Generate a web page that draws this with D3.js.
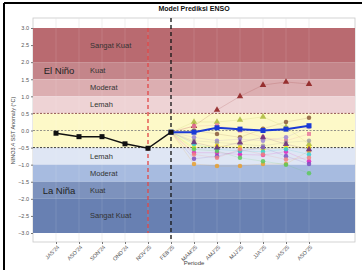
<!DOCTYPE html>
<html>
<head>
<meta charset="utf-8">
<script src="https://cdn.jsdelivr.net/npm/d3@7"></script>
<style>
body { margin: 0; background: #fff; }
svg { display: block; font-family: "Liberation Sans", Arial, sans-serif; }
</style>
</head>
<body>
<svg id="chart" width="362" height="270"></svg>
<script>
var periods = ["JAS'24", "ASO'24", "SON'24", "OND'24", "NOV'25", "FEB'25",
	"MAM'25", "AMJ'25", "MJJ'25", "JJA'25", "JAS'25", "ASO'25"];
var predPeriods = periods.slice(5);

var observed = [-0.08, -0.18, -0.18, -0.39, -0.52, -0.05];
var ensembleMean = [-0.05, -0.05, 0.08, 0.04, 0.0, 0.04, 0.14];

// model runs, starting from the last observed value
var modelColors = ["#8b1a1a", "#a9b83c", "#8b5a3c", "#e8789e", "#9b82d6", "#a0a0a0", "#f2e000",
	"#e020c0", "#7a4fc0", "#e8a030", "#30d0d0", "#5cc85c", "#6a2a7a", "#f08080"];
var modelShapes = ["triangle", "triangle", "circle", "square", "circle", "circle", "circle",
	"circle", "circle", "circle", "circle", "circle", "triangle", "circle"];
var modelValues = [
	[-0.05, 0.13, 0.6, 1.0, 1.33, 1.42, 1.36],
	[-0.05, 0.25, 0.25, 0.31, 0.4, 0.1, -0.4],
	[-0.05, 0.0, -0.1, -0.2, 0.05, 0.25, 0.37],
	[-0.05, 0.13, 0.15, 0.0, -0.2, -0.3, -0.1],
	[-0.05, -0.2, -0.3, -0.25, -0.3, -0.2, 0.1],
	[-0.05, -0.3, -0.35, -0.4, -0.45, -0.35, -0.3],
	[-0.05, -0.5, -0.45, -0.5, -0.55, -0.5, -0.5],
	[-0.05, -0.65, -0.65, -0.7, -0.72, -0.62, -0.9],
	[-0.05, -0.83, -0.75, -0.6, -0.5, -0.75, -0.98],
	[-0.05, -0.98, -1.04, -1.04, -0.98, -0.98, -0.6],
	[-0.05, -0.4, -0.55, -0.6, -0.62, -0.55, -0.7],
	[-0.05, -0.55, -0.6, -0.8, -0.9, -1.0, -1.25],
	[-0.05, -0.35, -0.5, -0.35, -0.2, -0.4, -0.55],
	[-0.05, -0.7, -0.8, -0.55, -0.7, -0.85, -0.8]
];

var bandRanges = [[2.0, 3.0], [1.5, 2.0], [1.0, 1.5], [0.5, 1.0], [-0.5, 0.5],
	[-1.0, -0.5], [-1.5, -1.0], [-2.0, -1.5], [-3.0, -2.0]];
var bandColors = ["#b96a70", "#c4858a", "#dcaeb1", "#eed3d5", "#fdf9c8",
	"#dfe6f4", "#a7bbe0", "#7d92bd", "#6880b2"];
var bandLabels = ["Sangat Kuat", "Kuat", "Moderat", "Lemah", "", "Lemah", "Moderat", "Kuat", "Sangat Kuat"];
var bandLabelValues = [2.5, 1.75, 1.25, 0.75, 0, -0.75, -1.25, -1.75, -2.5];

var yTicks = d3.range(-3, 3.01, 0.5);

var svg = d3.select("#chart");

var x = d3.scalePoint().domain(periods).range([56, 309]);
var step = x.step();
var y = d3.scaleLinear().domain([-3, 3]).range([233, 28]);

var panelLeft = x(periods[0]) - step;
var panelRight = x(periods[periods.length - 1]) + 2 * step;
var panelTop = 18, panelBottom = 242;

// frame
svg.append("line").attr("x1", 4).attr("x2", 362).attr("y1", 3).attr("y2", 3)
	.attr("stroke", "#000").attr("stroke-width", 2);
svg.append("line").attr("x1", 4).attr("x2", 4).attr("y1", 3).attr("y2", 270)
	.attr("stroke", "#000").attr("stroke-width", 2);

svg.append("text").attr("x", 194).attr("y", 11).attr("text-anchor", "middle")
	.attr("font-size", 7).attr("font-weight", "bold").attr("fill", "#111")
	.text("Model Prediksi ENSO");

// panel
svg.append("rect").attr("x", panelLeft).attr("y", panelTop)
	.attr("width", panelRight - panelLeft).attr("height", panelBottom - panelTop)
	.attr("fill", "#fff").attr("stroke", "#c8c8c8").attr("stroke-width", 0.8);

svg.append("g").selectAll("line").data(periods).enter().append("line")
	.attr("x1", function(d) { return x(d); }).attr("x2", function(d) { return x(d); })
	.attr("y1", panelTop).attr("y2", panelBottom)
	.attr("stroke", "#e4e4e4").attr("stroke-width", 0.6);

svg.append("g").selectAll("rect").data(bandRanges).enter().append("rect")
	.attr("x", panelLeft).attr("width", panelRight - panelLeft)
	.attr("y", function(d) { return y(d[1]); })
	.attr("height", function(d) { return y(d[0]) - y(d[1]); })
	.attr("fill", function(d, i) { return bandColors[i]; });

svg.append("g").selectAll("line").data(periods).enter().append("line")
	.attr("x1", function(d) { return x(d); }).attr("x2", function(d) { return x(d); })
	.attr("y1", y(3)).attr("y2", y(-3))
	.attr("stroke", "#fff").attr("stroke-opacity", 0.2).attr("stroke-width", 0.6);

svg.append("g").selectAll("text").data(bandLabels).enter().append("text")
	.attr("x", 90).attr("y", function(d, i) { return y(bandLabelValues[i]) + 2.5; })
	.attr("font-size", 7.5).attr("fill", "#333")
	.text(function(d) { return d; });

svg.append("text").attr("x", 59).attr("y", y(1.75) + 3.5).attr("text-anchor", "middle")
	.attr("font-size", 9.5).attr("fill", "#222").text("El Niño");
svg.append("text").attr("x", 59).attr("y", y(-1.75) + 3.5).attr("text-anchor", "middle")
	.attr("font-size", 9.5).attr("fill", "#222").text("La Niña");

// threshold lines
var thresholds = [[0.5, "#7a3030"], [0, "#777"], [-0.5, "#111"]];
svg.append("g").selectAll("line").data(thresholds).enter().append("line")
	.attr("x1", panelLeft).attr("x2", panelRight)
	.attr("y1", function(d) { return y(d[0]); }).attr("y2", function(d) { return y(d[0]); })
	.attr("stroke", function(d) { return d[1]; }).attr("stroke-width", 0.8)
	.attr("stroke-dasharray", "2,1.5");

// vertical markers
svg.append("line").attr("x1", x(periods[4])).attr("x2", x(periods[4]))
	.attr("y1", y(3)).attr("y2", y(-3))
	.attr("stroke", "#e04545").attr("stroke-width", 1.3).attr("stroke-dasharray", "4,3");
svg.append("line").attr("x1", x(periods[5])).attr("x2", x(periods[5]))
	.attr("y1", panelTop).attr("y2", panelBottom)
	.attr("stroke", "#111").attr("stroke-width", 1.3).attr("stroke-dasharray", "4,3");

// axes
var yAxis = svg.append("g").attr("transform", "translate(" + panelLeft + ",0)")
	.call(d3.axisLeft(y).tickValues(yTicks).tickFormat(d3.format(".1f")).tickSize(2).tickPadding(2));
yAxis.select(".domain").remove();
yAxis.selectAll("text").attr("font-size", 5.5).attr("fill", "#555");
yAxis.selectAll("line").attr("stroke", "#777");

var xAxis = svg.append("g").attr("transform", "translate(0," + panelBottom + ")")
	.call(d3.axisBottom(x).tickSize(2).tickPadding(2));
xAxis.select(".domain").remove();
xAxis.selectAll("line").attr("stroke", "#777");
xAxis.selectAll("text").attr("font-size", 5.5).attr("fill", "#555")
	.attr("text-anchor", "end").attr("dx", "-0.3em").attr("dy", "0.4em")
	.attr("transform", "rotate(-45)");

svg.append("text").attr("x", 194).attr("y", 265).attr("text-anchor", "middle")
	.attr("font-size", 6).attr("fill", "#444").text("Periode");
svg.append("text").attr("transform", "translate(15," + y(0) + ") rotate(-90)")
	.attr("text-anchor", "middle").attr("font-size", 5.5).attr("fill", "#444")
	.text("NINO3.4 SST Anomaly (°C)");

// model runs
var line = d3.line()
	.x(function(d, i) { return x(predPeriods[i]); })
	.y(function(d) { return y(d); });

var symbolType = { circle: d3.symbolCircle, square: d3.symbolSquare, triangle: d3.symbolTriangle };

var models = svg.append("g").selectAll("g").data(modelValues).enter().append("g");
models.append("path")
	.attr("d", function(d) { return line(d); })
	.attr("fill", "none")
	.attr("stroke", function(d, i) { return modelColors[i]; })
	.attr("stroke-opacity", 0.22).attr("stroke-width", 0.7);
models.each(function(vals, mi) {
	d3.select(this).selectAll("path.pt").data(vals.slice(1)).enter().append("path")
		.attr("class", "pt")
		.attr("transform", function(d, i) { return "translate(" + x(predPeriods[i + 1]) + "," + y(d) + ")"; })
		.attr("d", d3.symbol().type(symbolType[modelShapes[mi]]).size(modelShapes[mi] === "triangle" ? 18 : 16))
		.attr("fill", modelColors[mi]).attr("fill-opacity", 0.85);
});

// ensemble mean
svg.append("path").datum(ensembleMean)
	.attr("d", line).attr("fill", "none")
	.attr("stroke", "#1a3ad6").attr("stroke-width", 2);
svg.append("g").selectAll("rect").data(ensembleMean).enter().append("rect")
	.attr("x", function(d, i) { return x(predPeriods[i]) - 2.5; })
	.attr("y", function(d) { return y(d) - 2.5; })
	.attr("width", 5).attr("height", 5).attr("fill", "#1a3ad6");

// observed
var obsLine = d3.line()
	.x(function(d, i) { return x(periods[i]); })
	.y(function(d) { return y(d); });
svg.append("path").datum(observed)
	.attr("d", obsLine).attr("fill", "none")
	.attr("stroke", "#111").attr("stroke-width", 1.5);
svg.append("g").selectAll("rect").data(observed).enter().append("rect")
	.attr("x", function(d, i) { return x(periods[i]) - 2.5; })
	.attr("y", function(d) { return y(d) - 2.5; })
	.attr("width", 5).attr("height", 5).attr("fill", "#111");
</script>
</body>
</html>
